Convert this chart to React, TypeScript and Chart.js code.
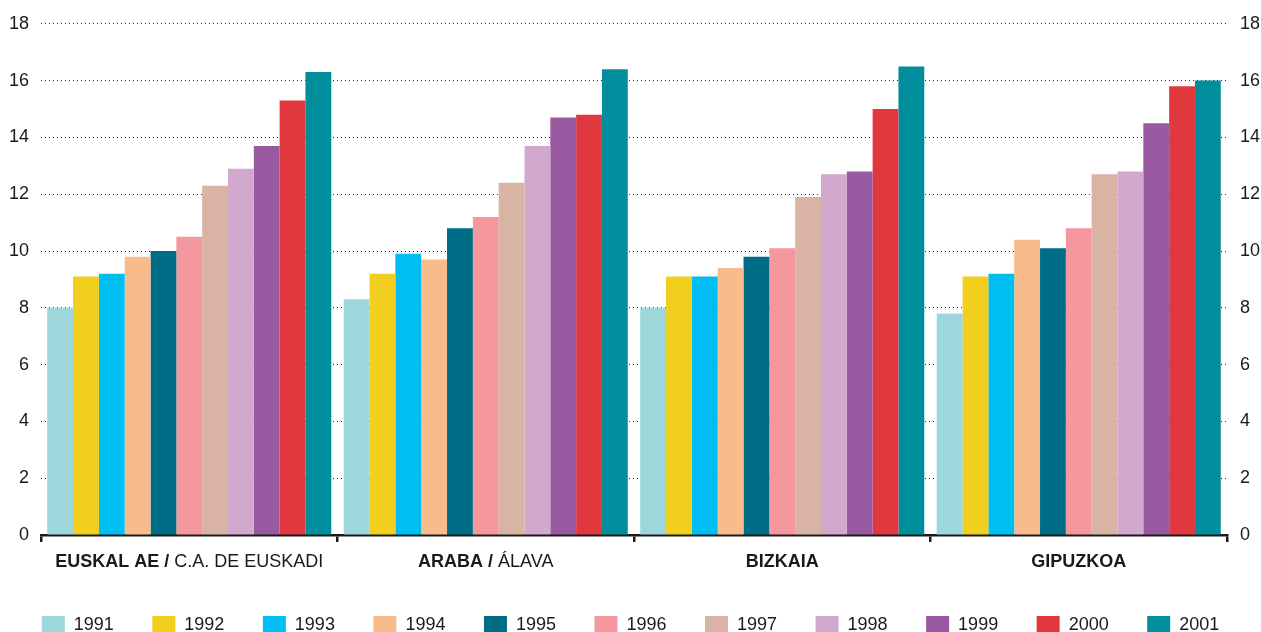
import React, { useEffect, useRef } from "react";
import { Chart, registerables } from "chart.js";

Chart.register(...registerables);

// Categories (bold part + regular part of each label)
const categories = ["EUSKAL AE / C.A. DE EUSKADI", "ARABA / ÁLAVA", "BIZKAIA", "GIPUZKOA"];
const categoryBold = ["EUSKAL AE /", "ARABA /", "BIZKAIA", "GIPUZKOA"];
const categoryRegular = ["C.A. DE EUSKADI", "ÁLAVA", "", ""];

const years = ["1991", "1992", "1993", "1994", "1995", "1996", "1997", "1998", "1999", "2000", "2001"];
const colors = [
  "#9DD7DC", "#F2CE1E", "#00BDF2", "#F8BC8C", "#006D87", "#F4979E",
  "#D9B3A3", "#D2A8CD", "#9A5AA2", "#E1383E", "#008E9C",
];

// Values per year, in category order
const y1991 = [8.0, 8.3, 8.0, 7.8];
const y1992 = [9.1, 9.2, 9.1, 9.1];
const y1993 = [9.2, 9.9, 9.1, 9.2];
const y1994 = [9.8, 9.7, 9.4, 10.4];
const y1995 = [10.0, 10.8, 9.8, 10.1];
const y1996 = [10.5, 11.2, 10.1, 10.8];
const y1997 = [12.3, 12.4, 11.9, 12.7];
const y1998 = [12.9, 13.7, 12.7, 12.8];
const y1999 = [13.7, 14.7, 12.8, 14.5];
const y2000 = [15.3, 14.8, 15.0, 15.8];
const y2001 = [16.3, 16.4, 16.5, 16.0];
const seriesValues = [y1991, y1992, y1993, y1994, y1995, y1996, y1997, y1998, y1999, y2000, y2001];

const yMin = 0;
const yMax = 18;
const yStep = 2;

const FONT = "'Liberation Sans', Arial, Helvetica, sans-serif";

const categoryLabelPlugin = {
  id: "categoryLabels",
  afterDraw(chart: any) {
    const ctx = chart.ctx;
    const xs = chart.scales.x;
    ctx.save();
    ctx.fillStyle = "#1a1a1a";
    ctx.textBaseline = "alphabetic";
    ctx.textAlign = "left";
    const y = xs.top + 32;
    categories.forEach((_c: string, i: number) => {
      const bold = categoryBold[i];
      const reg = categoryRegular[i];
      ctx.font = `bold 18px ${FONT}`;
      const wb = ctx.measureText(bold).width;
      ctx.font = `18px ${FONT}`;
      const wr = reg ? ctx.measureText(" " + reg).width : 0;
      const cx = xs.getPixelForValue(i);
      const x = cx - (wb + wr) / 2;
      ctx.font = `bold 18px ${FONT}`;
      ctx.fillText(bold, x, y);
      if (reg) {
        ctx.font = `18px ${FONT}`;
        ctx.fillText(" " + reg, x + wb, y);
      }
    });
    ctx.restore();
  },
};

export default function App() {
  const ref = useRef<HTMLCanvasElement | null>(null);

  useEffect(() => {
    document.body.style.margin = "0";
    document.body.style.overflow = "hidden";
    document.documentElement.style.overflow = "hidden";
    const canvas = ref.current;
    if (!canvas) return;

    const chart = new Chart(canvas, {
      type: "bar",
      data: {
        labels: categories,
        datasets: years.map((yr, i) => ({
          label: yr,
          data: seriesValues[i],
          backgroundColor: colors[i],
          borderWidth: 0,
          categoryPercentage: 0.958,
          barPercentage: 1,
          yAxisID: "y",
        })),
      },
      options: {
        responsive: false,
        animation: false,
        devicePixelRatio: 1,
        layout: { padding: { top: 23, left: 0, right: 0, bottom: 0 } },
        plugins: {
          tooltip: { enabled: false },
          legend: {
            position: "bottom",
            align: "center",
            labels: {
              boxWidth: 23,
              boxHeight: 18,
              padding: 38.5,
              color: "#1a1a1a",
              font: { family: FONT, size: 18 },
            },
          },
        },
        scales: {
          x: {
            type: "category",
            offset: true,
            ticks: { display: false },
            grid: {
              display: true,
              offset: true,
              drawOnChartArea: false,
              drawTicks: true,
              tickLength: 7,
              tickColor: "#1a1a1a",
              tickWidth: 2.5,
              color: "#1a1a1a",
              lineWidth: 2.5,
            },
            border: { display: true, color: "#1a1a1a", width: 2.5 },
            afterFit: (s: any) => {
              s.height = 42.5;
            },
          },
          y: {
            position: "left",
            min: yMin,
            max: yMax,
            ticks: {
              stepSize: yStep,
              padding: 12,
              color: "#1a1a1a",
              font: { family: FONT, size: 18 },
            },
            grid: {
              display: true,
              drawTicks: false,
              color: "#2a2a2a",
              lineWidth: 1,
              borderDash: [1, 3],
            } as any,
            border: { display: false, dash: [1, 3] },
            afterFit: (s: any) => {
              s.width = 41;
            },
          },
          y2: {
            position: "right",
            min: yMin,
            max: yMax,
            ticks: {
              stepSize: yStep,
              padding: 13,
              color: "#1a1a1a",
              font: { family: FONT, size: 18 },
            },
            grid: { display: false, drawTicks: false },
            border: { display: false },
            afterFit: (s: any) => {
              s.width = 34;
            },
          },
        },
      },
      plugins: [categoryLabelPlugin],
    } as any);

    return () => chart.destroy();
  }, []);

  return (
    <div style={{ width: 1261, height: 644, overflow: "hidden" }}>
      <canvas ref={ref} width={1261} height={644} style={{ display: "block", width: 1261, height: 644 }} />
    </div>
  );
}
